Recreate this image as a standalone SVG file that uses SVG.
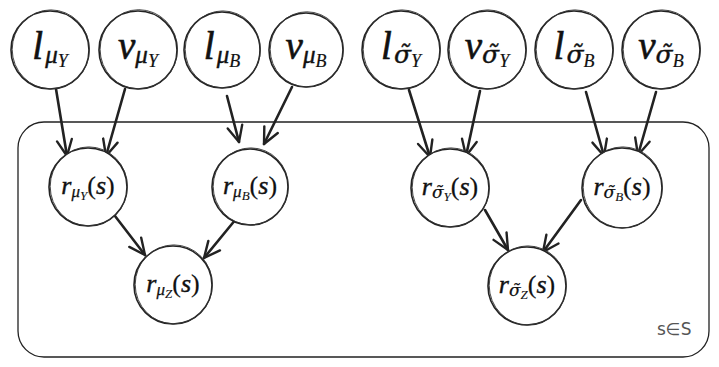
<svg xmlns="http://www.w3.org/2000/svg" width="719" height="367" viewBox="0 0 719 367">
<style>
.c1{fill:#fff;stroke:#222;stroke-width:1.6}
.c2{fill:none;stroke:#333;stroke-width:0.9}
.plate{fill:none;stroke:#222;stroke-width:1.3}
.big{font-family:"Liberation Serif","DejaVu Serif",serif;font-style:italic;font-size:39px;fill:#111;stroke:#111;stroke-width:0.6}
.mid{font-family:"Liberation Serif","DejaVu Serif",serif;font-style:italic;font-size:26px;fill:#111;stroke:#111;stroke-width:0.4}
.s1{font-size:25px;stroke-width:0.4}
.s2{font-size:18px;stroke-width:0.2}
.m1{font-size:17px;stroke-width:0.25}
.m2{font-size:13px;stroke-width:0.1}
.dj{font-family:"DejaVu Serif",serif}
.up{font-style:normal;stroke-width:0.2}
.edge{stroke:#222;stroke-width:2.6;fill:none;stroke-linecap:round;marker-end:url(#ah)}
.lbl{font-family:"DejaVu Sans","Liberation Sans",sans-serif;font-size:17px;fill:#555}
</style>
<defs>
<marker id="ah" markerUnits="userSpaceOnUse" markerWidth="24" markerHeight="24" viewBox="-18 -12 24 24" refX="0" refY="0" orient="auto" overflow="visible">
<path d="M-16,-7.5 L0,0 L-16,7.5" fill="none" stroke="#222" stroke-width="2.4" stroke-linecap="round" stroke-linejoin="round"/>
</marker>
</defs>
<rect class="plate" x="18" y="122" width="691" height="235" rx="26"/>
<text class="lbl" x="657" y="335">s∈S</text>
<g id="connectors">
<line class="edge" x1="56" y1="89" x2="67" y2="156"/>
<line class="edge" x1="125" y1="89" x2="106" y2="156"/>
<line class="edge" x1="227" y1="96" x2="239" y2="142"/>
<line class="edge" x1="292" y1="87" x2="264" y2="144"/>
<line class="edge" x1="409" y1="90" x2="430" y2="157"/>
<line class="edge" x1="480" y1="91" x2="466" y2="156"/>
<line class="edge" x1="586" y1="92" x2="604" y2="156"/>
<line class="edge" x1="656" y1="92" x2="638" y2="155"/>
<line class="edge" x1="115" y1="216" x2="145" y2="255"/>
<line class="edge" x1="236" y1="219" x2="204" y2="258"/>
<line class="edge" x1="485" y1="210" x2="508" y2="250"/>
<line class="edge" x1="581" y1="200" x2="543" y2="252"/>
</g>
<g id="l_muY"><circle class="c1" cx="50" cy="50" r="39"/><ellipse class="c2" cx="50.8" cy="49.4" rx="38.6" ry="39.5"/>
<text class="big" x="50" y="59" text-anchor="middle">l<tspan class="s1" dx="2" dy="4">μ</tspan><tspan class="s2" dy="4">Y</tspan></text></g>
<g id="v_muY"><circle class="c1" cx="138" cy="50" r="39"/><ellipse class="c2" cx="138.8" cy="49.3" rx="38.7" ry="39.6"/>
<text class="big" x="138" y="59" text-anchor="middle">v<tspan class="s1" dy="4">μ</tspan><tspan class="s2" dy="4">Y</tspan></text></g>
<g id="l_muB"><circle class="c1" cx="222" cy="50" r="38"/><ellipse class="c2" cx="222.8" cy="49.4" rx="37.6" ry="38.5"/>
<text class="big" x="222" y="59" text-anchor="middle">l<tspan class="s1" dx="2" dy="4">μ</tspan><tspan class="s2" dy="4">B</tspan></text></g>
<g id="v_muB"><circle class="c1" cx="306" cy="50" r="37"/><ellipse class="c2" cx="306.8" cy="49.4" rx="36.6" ry="37.6"/>
<text class="big" x="306" y="59" text-anchor="middle">v<tspan class="s1" dy="4">μ</tspan><tspan class="s2" dy="4">B</tspan></text></g>
<g id="l_sigY"><circle class="c1" cx="401" cy="50" r="39"/><ellipse class="c2" cx="401.8" cy="49.4" rx="38.6" ry="39.5"/>
<text class="big" x="401" y="59" text-anchor="middle">l<tspan class="s1 dj" dx="2" dy="4">σ̃</tspan><tspan class="s2" dy="4">Y</tspan></text></g>
<g id="v_sigY"><circle class="c1" cx="487" cy="50" r="39"/><ellipse class="c2" cx="487.8" cy="49.4" rx="38.6" ry="39.5"/>
<text class="big" x="487" y="59" text-anchor="middle">v<tspan class="s1 dj" dy="4">σ̃</tspan><tspan class="s2" dy="4">Y</tspan></text></g>
<g id="l_sigB"><circle class="c1" cx="574" cy="50" r="39"/><ellipse class="c2" cx="574.8" cy="49.4" rx="38.6" ry="39.5"/>
<text class="big" x="574" y="59" text-anchor="middle">l<tspan class="s1 dj" dx="2" dy="4">σ̃</tspan><tspan class="s2" dy="4">B</tspan></text></g>
<g id="v_sigB"><circle class="c1" cx="661" cy="50" r="39"/><ellipse class="c2" cx="661.8" cy="49.4" rx="38.6" ry="39.5"/>
<text class="big" x="661" y="59" text-anchor="middle">v<tspan class="s1 dj" dy="4">σ̃</tspan><tspan class="s2" dy="4">B</tspan></text></g>
<g id="r_muY"><circle class="c1" cx="88" cy="187" r="39"/><ellipse class="c2" cx="88.8" cy="186.4" rx="38.6" ry="39.5"/>
<text class="mid" x="88" y="194" text-anchor="middle">r<tspan class="m1" dy="3">μ</tspan><tspan class="m2" dy="3">Y</tspan><tspan dy="-6" class="up">(</tspan>s<tspan class="up">)</tspan></text></g>
<g id="r_muB"><circle class="c1" cx="250" cy="187" r="38"/><ellipse class="c2" cx="250.8" cy="186.4" rx="37.6" ry="38.5"/>
<text class="mid" x="250" y="194" text-anchor="middle">r<tspan class="m1" dy="3">μ</tspan><tspan class="m2" dy="3">B</tspan><tspan dy="-6" class="up">(</tspan>s<tspan class="up">)</tspan></text></g>
<g id="r_muZ"><circle class="c1" cx="173" cy="285" r="39"/><ellipse class="c2" cx="173.8" cy="284.4" rx="38.6" ry="39.5"/>
<text class="mid" x="173" y="292" text-anchor="middle">r<tspan class="m1" dy="3">μ</tspan><tspan class="m2" dy="3">Z</tspan><tspan dy="-6" class="up">(</tspan>s<tspan class="up">)</tspan></text></g>
<g id="r_sigY"><circle class="c1" cx="450" cy="188" r="39"/><ellipse class="c2" cx="450.8" cy="187.4" rx="38.6" ry="39.5"/>
<text class="mid" x="450" y="195" text-anchor="middle">r<tspan class="m1 dj" dy="3">σ̃</tspan><tspan class="m2" dy="3">Y</tspan><tspan dy="-6" class="up">(</tspan>s<tspan class="up">)</tspan></text></g>
<g id="r_sigB"><circle class="c1" cx="622" cy="188" r="40"/><ellipse class="c2" cx="622.8" cy="187.4" rx="39.6" ry="40.5"/>
<text class="mid" x="622" y="195" text-anchor="middle">r<tspan class="m1 dj" dy="3">σ̃</tspan><tspan class="m2" dy="3">B</tspan><tspan dy="-6" class="up">(</tspan>s<tspan class="up">)</tspan></text></g>
<g id="r_sigZ"><circle class="c1" cx="527" cy="286" r="39"/><ellipse class="c2" cx="527.8" cy="285.4" rx="38.6" ry="39.5"/>
<text class="mid" x="527" y="293" text-anchor="middle">r<tspan class="m1 dj" dy="3">σ̃</tspan><tspan class="m2" dy="3">Z</tspan><tspan dy="-6" class="up">(</tspan>s<tspan class="up">)</tspan></text></g>
</svg>
